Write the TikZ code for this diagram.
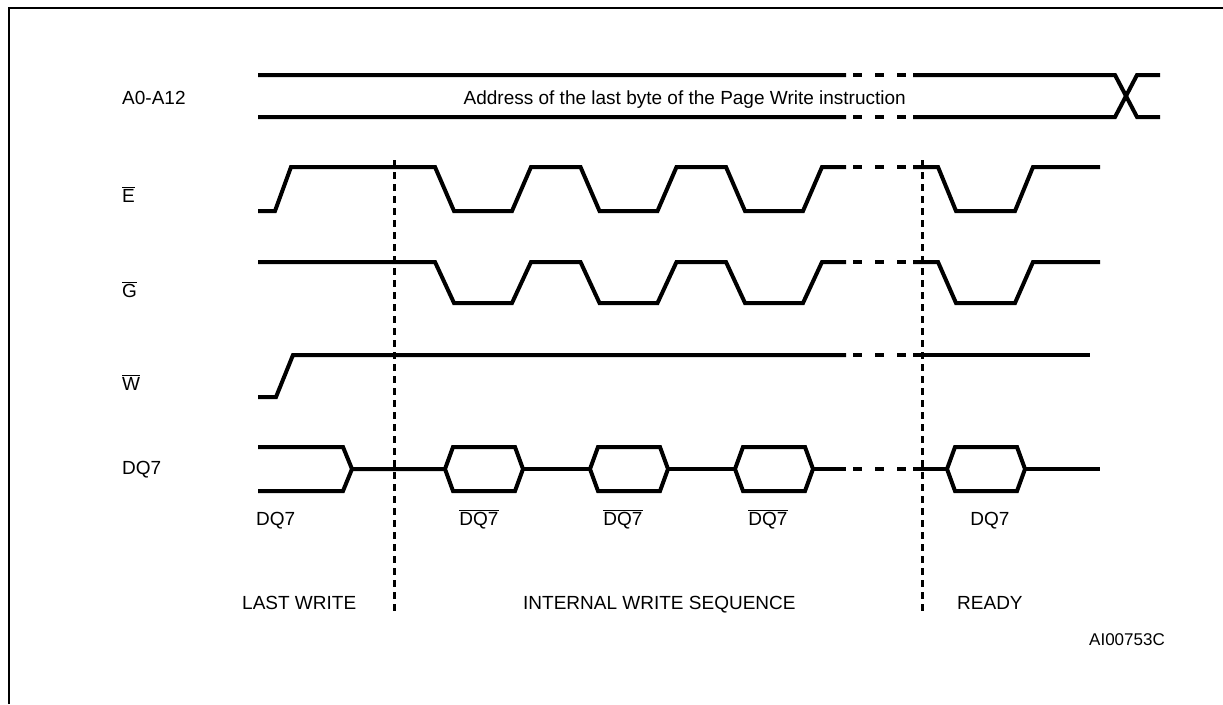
\documentclass[tikz,border=0pt]{standalone}
\usepackage{fontspec}
\setmainfont{Liberation Sans}
\newcommand{\ovl}[1]{$\overline{\mbox{#1}}$}
\newcommand{\gapmark}[1]{%
  \foreach \a in {853,875,897}{\draw[sig] (\a,#1)--++(9,0);}}
\tikzset{
  sig/.style={line width=4pt,line join=miter},
  phase/.style={line width=3pt,dash pattern=on 7pt off 5pt},
  lbl/.style={anchor=base west,inner sep=0pt}}

\begin{document}
\begin{tikzpicture}[x=1pt,y=-1pt,font=\fontsize{19}{23}\selectfont]
  \useasboundingbox (0,0) rectangle (1223,704);
  \draw[line width=2.5pt] (9,704)--(9,8)--(1223,8);
  % address bus
  \draw[sig] (258,75)--(846,75) (913,75)--(1115,75)--(1137,117)--(1160,117);
  \draw[sig] (258,117)--(846,117) (913,117)--(1115,117)--(1137,75)--(1160,75);
  \gapmark{75}
  \gapmark{117}
  % E and G
  \draw[sig] (258,211)--(275,211)--(291,167)
    \foreach \x in {435,580.5,726}{--(\x,167)--(\x+19,211)--(\x+77,211)--(\x+96,167)}
    --(846,167);
  \draw[sig] (913,167)--(938,167)--(956,211)--(1015,211)--(1033,167)--(1100,167);
  \gapmark{167}
  \draw[sig] (258,262)
    \foreach \x in {435,580.5,726}{--(\x,262)--(\x+19,303)--(\x+77,303)--(\x+96,262)}
    --(846,262);
  \draw[sig] (913,262)--(938,262)--(956,303)--(1015,303)--(1033,262)--(1100,262);
  \gapmark{262}
  % W
  \draw[sig] (258,397)--(276,397)--(293,355)--(846,355);
  \draw[sig] (913,355)--(1090,355);
  \gapmark{355}
  % DQ7
  \draw[sig] (258,447)--(343,447)--(352,469)--(445,469);
  \draw[sig] (258,491)--(343,491)--(352,469);
  \foreach \x in {445,590,735,947}
    \draw[sig] (\x,469)--(\x+8,447)--(\x+70,447)--(\x+78,469)--(\x+70,491)--(\x+8,491)--cycle;
  \draw[sig] (523,469)--(590,469) (668,469)--(735,469) (813,469)--(846,469)
    (913,469)--(947,469) (1025,469)--(1100,469);
  \gapmark{469}
  \draw[phase] (394,160)--(394,615);
  \draw[phase] (922,160)--(922,615);
  \node[lbl] (lA) at (122,104) {A0-A12};
  \node[lbl] (lE) at (122,202) {\ovl{E}};
  \node[lbl] (lG) at (122,297) {\ovl{G}};
  \node[lbl] (lW) at (122,390) {\ovl{W}};
  \node[lbl] (lD) at (122,474) {DQ7};
  \node[anchor=base east,inner sep=0pt] (addr) at (906,104)
    {Address of the last byte of the Page Write instruction};
  \node[lbl] (v0) at (256,525) {DQ7};
  \foreach \x/\n in {479/v1,623/v2,768/v3}
    \node[anchor=base,inner sep=0pt] (\n) at (\x,525) {\ovl{DQ7}};
  \node[anchor=base,inner sep=0pt] (v4) at (990,525) {DQ7};
  \node[lbl] (ph1) at (242,609) {LAST WRITE};
  \node[lbl] (ph2) at (523,609) {INTERNAL WRITE SEQUENCE};
  \node[lbl] (ph3) at (957,609) {READY};
  \node[anchor=base east,inner sep=0pt,font=\fontsize{17}{20}\selectfont] (ref)
    at (1165,645) {AI00753C};
\end{tikzpicture}
\end{document}
